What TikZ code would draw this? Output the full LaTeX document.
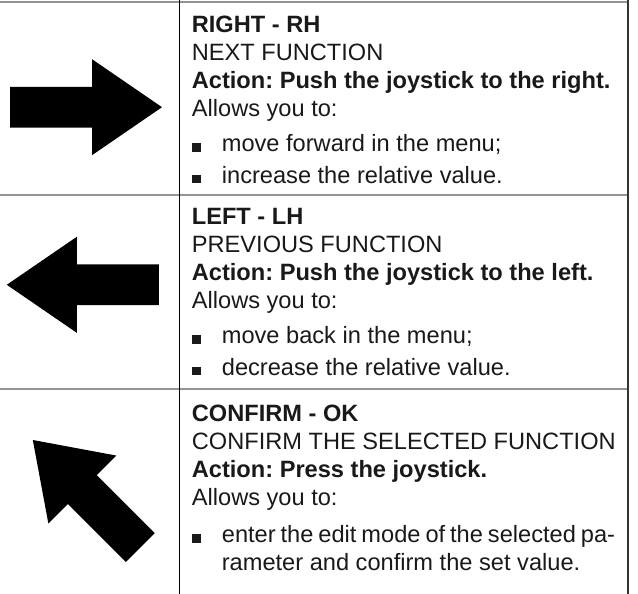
\documentclass[tikz,border=0pt]{standalone}
\usepackage{fontspec}
\setmainfont{Liberation Sans}
\frenchspacing
\newcommand{\bul}{\makebox[0.75cm][l]{\rule{0.22cm}{0.21cm}}}

\begin{document}
\begin{tikzpicture}[cell/.style={anchor=base west, align=left, inner sep=0pt, text=black!90, font=\fontsize{16.8}{19.9}\selectfont\frenchspacing}, rowline/.style={gray!85, line width=1.4pt}]
	\useasboundingbox (0,0) rectangle (15.95,-14.85);
	% table rules
	\foreach \y in {-0.04,-4.88,-9.72} {\draw[rowline] (0,\y) -- (15.71,\y);}
	\draw[line width=0.7pt] (4.49,0) -- (4.49,-14.85);
	\draw[gray!40!black, line width=1.5pt] (15.71,0) -- (15.71,-14.85);
	% arrows
	\foreach \p/\a in {{(4.05,-2.68)}/0, {(0.17,-7.12)}/180, {(0.82,-11)}/135}
		\fill[black, shift={\p}, rotate=\a] (0,0) -- (-1.75,1.2) -- (-1.75,0.51) -- (-3.8,0.51) -- (-3.8,-0.51) -- (-1.75,-0.51) -- (-1.75,-1.2) -- cycle;
	% texts (anchored on the last line)
	\node[cell] (rh) at (4.79,-4.58) {\textbf{RIGHT - RH}\\NEXT FUNCTION\\\textbf{Action: Push the joystick to the right.}\\Allows you to:\\[5pt]\bul move forward in the menu;\\[2.5pt]\bul increase the relative value.};
	\node[cell] (lh) at (4.79,-9.38) {\textbf{LEFT - LH}\\PREVIOUS FUNCTION\\\textbf{Action: Push the joystick to the left.}\\Allows you to:\\[5pt]\bul move back in the menu;\\[2.5pt]\bul decrease the relative value.};
	\node[cell] (ok) at (4.79,-14.27) {\textbf{CONFIRM - OK}\\CONFIRM THE SELECTED FUNCTION\\\textbf{Action: Press the joystick.}\\Allows you to:\\[7pt]\bul\makebox[9.83cm][s]{enter the edit mode of the selected pa-}\\\hspace*{0.75cm}rameter and confirm the set value.};
\end{tikzpicture}
\end{document}
